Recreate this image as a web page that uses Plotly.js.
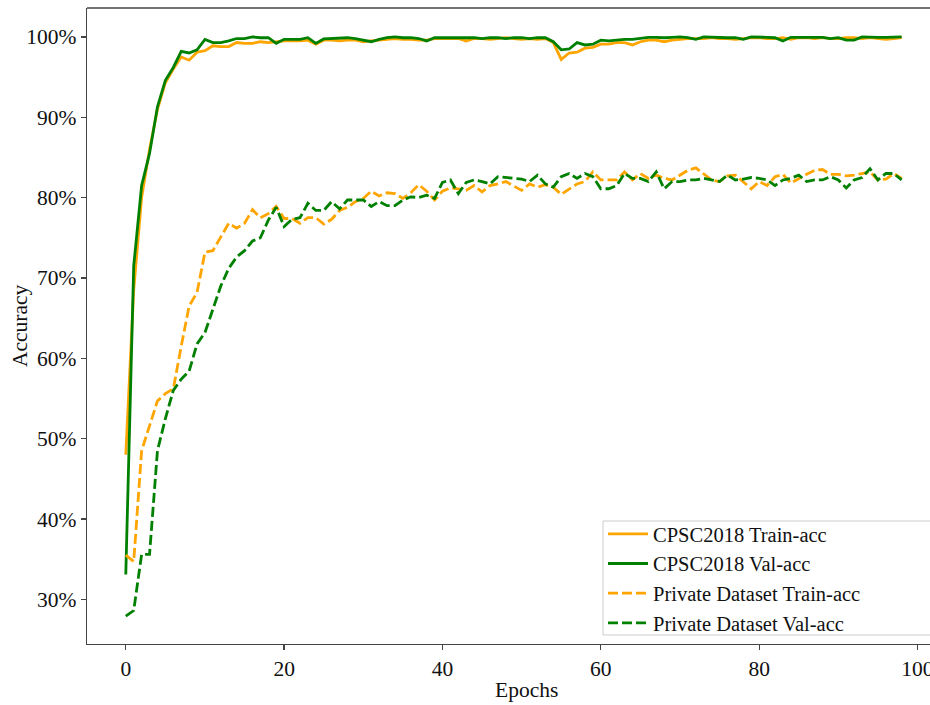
<!DOCTYPE html>
<html>
<head>
<meta charset="utf-8">
<script src="https://cdn.plot.ly/plotly-3.0.1.min.js"></script>
<style>
html,body{margin:0;padding:0;background:#fff;overflow:hidden;width:930px;height:705px;}
#chart{width:930px;height:705px;}
</style>
</head>
<body>
<div id="chart"></div>
<script>
// Values in percent, epochs 0..98
const cpscTrain = [48.0,68.5,80.0,86.0,91.0,94.3,96.0,97.5,97.1,98.1,
98.3,98.9,98.8,98.8,99.3,99.2,99.2,99.4,99.3,99.4,
99.5,99.5,99.5,99.6,99.1,99.6,99.6,99.5,99.6,99.6,
99.4,99.5,99.6,99.7,99.8,99.7,99.7,99.6,99.6,99.8,
99.8,99.8,99.8,99.5,99.8,99.8,99.7,99.8,99.9,99.8,
99.7,99.8,99.7,99.8,99.3,97.2,98.0,98.1,98.6,98.7,
99.1,99.1,99.3,99.3,99.0,99.4,99.6,99.6,99.4,99.6,
99.7,99.8,99.8,99.8,99.9,99.8,99.8,99.7,99.8,99.9,
99.9,99.8,99.8,99.9,99.7,99.9,99.9,99.8,99.9,99.8,
99.8,99.9,99.9,99.8,99.9,99.8,99.7,99.8,99.9];
const cpscVal = [33.1,71.5,81.5,85.5,91.3,94.6,96.2,98.2,98.0,98.4,
99.7,99.3,99.3,99.5,99.8,99.8,100.0,99.9,99.9,99.2,
99.7,99.7,99.7,99.9,99.2,99.75,99.8,99.9,99.9,99.8,
99.6,99.4,99.7,99.9,100.0,99.9,99.9,99.8,99.5,99.9,
99.9,99.9,99.9,99.9,99.9,99.8,99.9,99.9,99.8,99.9,
99.9,99.8,99.9,99.9,99.4,98.4,98.5,99.3,99.0,99.1,
99.6,99.5,99.6,99.7,99.7,99.8,99.95,99.95,99.9,99.95,
100.0,99.9,99.7,100.0,99.95,99.95,99.9,99.9,99.7,100.0,
100.0,99.95,99.9,99.5,99.95,99.95,99.9,99.95,99.95,99.8,
99.9,99.6,99.6,100.0,99.95,99.95,99.95,100.0,100.0];
const privTrain = [35.5,34.7,48.5,51.5,54.7,55.6,56.2,61.5,66.5,68.2,
73.2,73.4,75.1,76.8,76.2,76.8,78.5,77.5,78.0,78.9,
77.4,77.4,76.8,77.5,77.5,76.7,77.3,78.4,78.8,79.5,
79.9,80.8,80.2,80.6,80.5,79.9,80.6,81.6,80.8,79.7,
80.8,81.2,81.1,80.9,81.5,80.7,81.5,81.7,82.0,81.5,
80.9,81.7,81.3,81.6,81.3,80.4,81.1,81.7,82.0,83.2,
82.2,82.2,82.2,83.2,82.2,83.0,82.4,82.8,82.4,82.2,
82.8,83.4,83.7,83.0,82.2,82.0,82.7,82.8,82.0,81.1,
82.0,81.5,82.6,82.9,81.8,82.4,82.9,83.4,83.5,82.9,
82.9,82.7,82.8,83.0,83.2,82.2,82.3,83.0,82.4];
const privVal = [27.9,28.6,35.6,35.6,48.5,52.5,56.0,57.4,58.4,61.8,
63.2,66.2,69.0,71.2,72.6,73.4,74.6,75.0,77.2,78.8,
76.4,77.3,77.5,79.3,78.4,78.4,79.5,78.6,79.7,79.7,
79.7,78.9,79.5,79.0,79.0,79.7,80.1,80.0,80.3,79.9,
81.9,82.2,80.5,81.9,82.2,82.0,81.7,82.6,82.5,82.4,
82.3,82.0,82.8,81.7,81.3,82.6,83.0,82.4,83.0,82.6,
81.1,81.1,81.5,83.0,82.4,82.4,82.0,83.2,81.1,82.0,
82.0,82.2,82.2,82.4,82.2,82.0,82.8,82.2,82.3,82.5,
82.4,82.2,81.5,82.2,82.4,82.8,82.0,82.2,82.2,82.6,
82.2,81.2,82.2,82.5,83.6,82.2,83.0,83.0,82.2];
const seriesNames = ["CPSC2018 Train-acc","CPSC2018 Val-acc","Private Dataset Train-acc","Private Dataset Val-acc"];
const xTicks = [0,20,40,60,80,100];
const yTicks = [0.3,0.4,0.5,0.6,0.7,0.8,0.9,1.0];

const epochs = cpscTrain.map((_, i) => i);
const toFrac = a => a.map(v => v / 100);
const ORANGE = '#FFA500', GREEN = '#008000';
const dash = '10px,4px';

const traces = [
  {x: epochs, y: toFrac(cpscTrain), name: seriesNames[0], mode: 'lines', line: {color: ORANGE, width: 2.8}},
  {x: epochs, y: toFrac(cpscVal), name: seriesNames[1], mode: 'lines', line: {color: GREEN, width: 2.8}},
  {x: epochs, y: toFrac(privTrain), name: seriesNames[2], mode: 'lines', line: {color: ORANGE, width: 2.8, dash: dash}},
  {x: epochs, y: toFrac(privVal), name: seriesNames[3], mode: 'lines', line: {color: GREEN, width: 2.8, dash: dash}}
];

const fontFam = '"Liberation Serif", "Times New Roman", serif';
const layout = {
  width: 930, height: 705,
  margin: {l: 87, r: 0, t: 8, b: 61},
  paper_bgcolor: '#fff', plot_bgcolor: '#fff',
  font: {family: fontFam, size: 21.5, color: '#111'},
  showlegend: true,
  legend: {
    x: (603 - 87) / 843, y: (644 - 514) / 636, xanchor: 'left', yanchor: 'top',
    bgcolor: 'rgba(0,0,0,0)', borderwidth: 0,
    font: {family: fontFam, size: 20.5, color: '#111'},
    tracegroupgap: 0, itemwidth: 40
  },
  xaxis: {
    range: [-4.9, -4.9 + 843 / 7.917],
    tickmode: 'array', tickvals: xTicks, ticktext: xTicks.map(String),
    showgrid: false, zeroline: false,
    showline: true, linecolor: '#444', linewidth: 1.3, mirror: false,
    ticks: 'outside', ticklen: 5, tickcolor: '#444', tickwidth: 1.3,
    ticklabeloverflow: 'allow',
    tickfont: {family: fontFam, size: 21.5, color: '#111'}
  },
  yaxis: {
    range: [0.2444, 1.036],
    tickmode: 'array', tickvals: yTicks, ticktext: yTicks.map(v => Math.round(v * 100) + '%'),
    showgrid: false, zeroline: false,
    showline: true, linecolor: '#444', linewidth: 1.3, mirror: false,
    ticks: 'outside', ticklen: 5, tickcolor: '#444', tickwidth: 1.3,
    tickfont: {family: fontFam, size: 21.5, color: '#111'}
  },
  shapes: [
    {type: 'line', xref: 'paper', yref: 'paper', x0: 0, x1: 1, y0: 1, y1: 1, line: {color: '#444', width: 1.3}},
    {type: 'rect', xref: 'paper', yref: 'paper', layer: 'above',
     x0: (603 - 87) / 843, x1: 1.03, y0: (644 - 635) / 636, y1: (644 - 521) / 636,
     fillcolor: 'rgba(255,255,255,0.85)', line: {color: '#cccccc', width: 1}}
  ],
  annotations: [
    {text: 'Epochs', xref: 'paper', yref: 'paper', x: (526 - 87) / 843, y: -(690 - 644) / 636,
     xanchor: 'center', yanchor: 'middle', showarrow: false, font: {family: fontFam, size: 21.5, color: '#111'}},
    {text: 'Accuracy', xref: 'paper', yref: 'paper', x: -(87 - 20) / 843, y: (644 - 326) / 636,
     xanchor: 'center', yanchor: 'middle', textangle: -90, showarrow: false, font: {family: fontFam, size: 21.5, color: '#111'}}
  ]
};

Plotly.newPlot('chart', traces, layout, {displayModeBar: false, staticPlot: true});
</script>
</body>
</html>
